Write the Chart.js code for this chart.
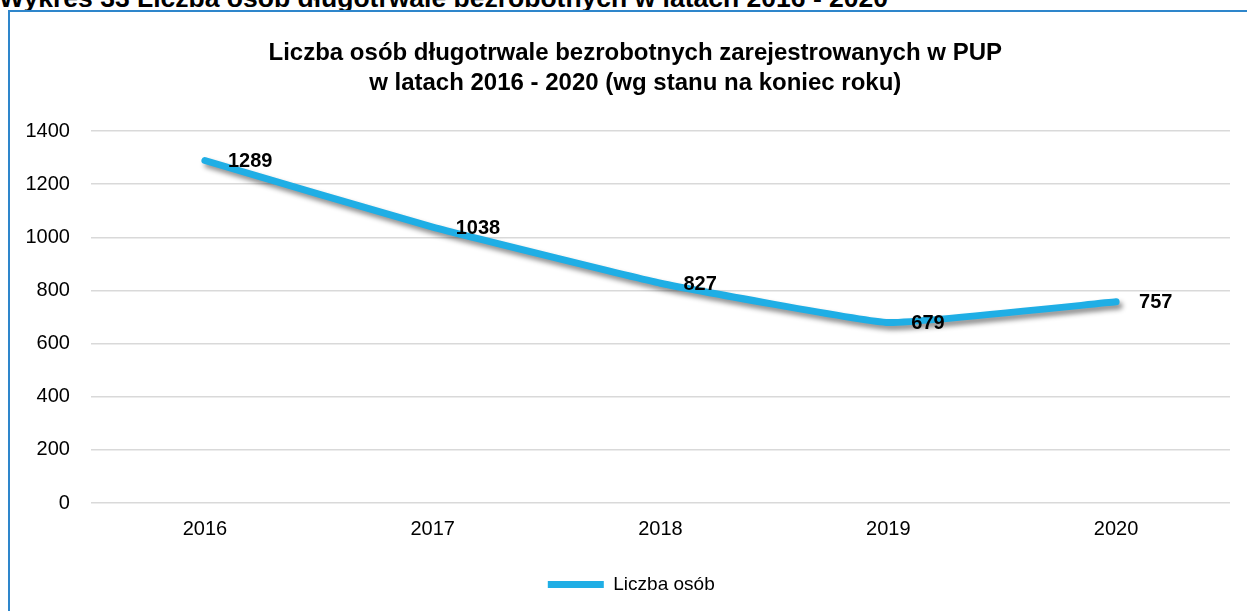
<!DOCTYPE html>
<html lang="pl">
<head>
<meta charset="utf-8">
<title>Liczba osób długotrwale bezrobotnych</title>
<script src="https://cdn.jsdelivr.net/npm/chart.js@4.4.1/dist/chart.umd.min.js"></script>
<style>
  html, body { margin: 0; padding: 0; background: #ffffff; overflow: hidden; }
  body { width: 1247px; height: 611px; position: relative; }
  .heading {
    position: absolute; left: -1px; top: -15px;
    font: bold 26.5px "Liberation Sans", Arial, sans-serif; line-height: 26px;
    color: #000; white-space: nowrap;
  }
  .frame {
    position: absolute; left: 8px; top: 10px; width: 1300px; height: 700px;
    border-left: 2px solid #2E86CB; border-top: 2px solid #2E86CB;
  }
  #chart { position: absolute; left: 0; top: 0; }
</style>
</head>
<body>
<div class="heading">Wykres 33 Liczba osób długotrwale bezrobotnych w latach 2016 - 2020</div>
<div class="frame"></div>
<canvas id="chart" width="1247" height="611"></canvas>
<script>
// Lata i liczba osób długotrwale bezrobotnych (stan na koniec roku)
const years = ['2016', '2017', '2018', '2019', '2020'];
const longTermUnemployed = [1289, 1038, 827, 679, 757];
const seriesName = 'Liczba osób';
const chartTitle = [
  'Liczba osób długotrwale bezrobotnych zarejestrowanych w PUP',
  'w latach 2016 - 2020 (wg stanu na koniec roku)'
];

const FONT = '"Liberation Sans", Arial, sans-serif';

// Cień pod linią serii
const lineShadow = {
  id: 'lineShadow',
  beforeDatasetDraw(chart) {
    const ctx = chart.ctx;
    ctx.save();
    ctx.shadowColor = 'rgba(0,0,0,0.45)';
    ctx.shadowBlur = 5;
    ctx.shadowOffsetX = 3;
    ctx.shadowOffsetY = 4;
  },
  afterDatasetDraw(chart) {
    chart.ctx.restore();
  }
};

// Etykiety wartości po prawej stronie punktów
const valueLabels = {
  id: 'valueLabels',
  afterDatasetsDraw(chart) {
    const ctx = chart.ctx;
    const meta = chart.getDatasetMeta(0);
    const data = chart.data.datasets[0].data;
    ctx.save();
    ctx.font = 'bold 20px ' + FONT;
    ctx.fillStyle = '#000';
    ctx.textAlign = 'left';
    ctx.textBaseline = 'middle';
    meta.data.forEach((pt, i) => {
      ctx.fillText(String(data[i]), pt.x + 23, pt.y + 1);
    });
    ctx.restore();
  }
};

// Tytuł i legenda wyśrodkowane względem całej ramki wykresu
const frameCentering = {
  id: 'frameCentering',
  afterLayout(chart) {
    const t = chart.titleBlock;
    if (t) { t.left += 18; t.right += 18; }
    const l = chart.legend;
    if (l) { l.left += 14; l.right += 14; }
  }
};

new Chart(document.getElementById('chart'), {
  type: 'line',
  data: {
    labels: years,
    datasets: [{
      label: seriesName,
      data: longTermUnemployed,
      borderColor: '#1FAEE5',
      backgroundColor: '#1FAEE5',
      borderWidth: 7,
      borderCapStyle: 'round',
      borderJoinStyle: 'round',
      tension: 0.1,
      pointRadius: 0,
      pointHoverRadius: 0,
      pointStyle: 'line'
    }]
  },
  options: {
    responsive: false,
    animation: false,
    events: [],
    layout: { padding: { left: 4.5, right: 17, top: 0, bottom: 7 } },
    scales: {
      x: {
        offset: true,
        grid: { display: false, drawTicks: false },
        border: { display: false },
        ticks: { color: '#000', font: { family: FONT, size: 20 }, padding: 14 }
      },
      y: {
        min: 0,
        max: 1400,
        ticks: {
          stepSize: 200,
          color: '#000',
          font: { family: FONT, size: 20 },
          padding: 21,
          callback: (v) => String(v)
        },
        grid: { color: '#D9D9D9', lineWidth: 1.5, drawTicks: false },
        border: { display: false }
      }
    },
    plugins: {
      title: {
        display: true,
        text: chartTitle,
        color: '#000',
        font: { family: FONT, size: 24, weight: 'bold', lineHeight: 1.25 },
        padding: { top: 38, bottom: 33 }
      },
      legend: {
        position: 'bottom',
        labels: {
          usePointStyle: true,
          pointStyleWidth: 56,
          boxHeight: 19,
          color: '#000',
          font: { family: FONT, size: 19 },
          padding: 20
        }
      },
      tooltip: { enabled: false }
    }
  },
  plugins: [lineShadow, valueLabels, frameCentering]
});
</script>
</body>
</html>
